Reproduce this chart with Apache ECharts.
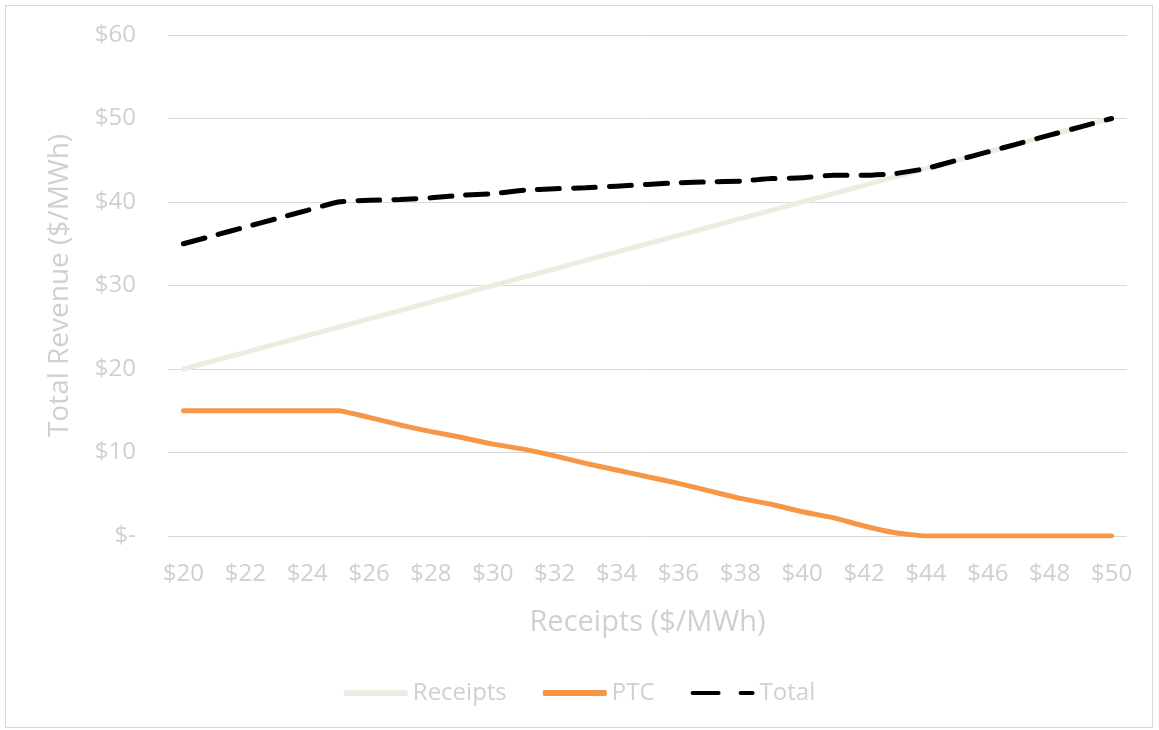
<!DOCTYPE html>
<html>
<head>
<meta charset="utf-8">
<script src="https://cdn.jsdelivr.net/npm/echarts@6/dist/echarts.min.js"></script>
<style>
  html, body { margin: 0; padding: 0; background: #fff; }
  #frame { position: absolute; left: 5px; top: 5px; width: 1146px; height: 721px; border: 1px solid #d9d9d9; }
  #chart { position: absolute; left: 0; top: 0; width: 1159px; height: 730px; }
</style>
</head>
<body>
<div id="frame"></div>
<div id="chart"></div>
<script>
// x categories ($/MWh receipts)
var categories = ['$20','$21','$22','$23','$24','$25','$26','$27','$28','$29','$30',
  '$31','$32','$33','$34','$35','$36','$37','$38','$39','$40',
  '$41','$42','$43','$44','$45','$46','$47','$48','$49','$50'];

var receipts = [20,21,22,23,24,25,26,27,28,29,30,31,32,33,34,35,36,37,38,39,40,41,42,43,44,45,46,47,48,49,50];
var ptc = [15,15,15,15,15,15,14.2,13.3,12.5,11.8,11.0,10.4,9.6,8.7,7.9,7.1,6.3,5.4,4.5,3.8,2.9,2.2,1.2,0.4,0,0,0,0,0,0,0];
var total = [35,36,37,38,39,40,40.2,40.3,40.5,40.8,41.0,41.4,41.6,41.7,41.9,42.1,42.3,42.4,42.5,42.8,42.9,43.2,43.2,43.4,44,45,46,47,48,49,50];

var yTicks = [0, 10, 20, 30, 40, 50, 60];

var txt = '#d0d0d0';
var font = 'Open Sans';
var dashIcon = 'path://M2,0h26a2,2 0 0 1 0,4h-26a2,2 0 0 1 0,-4z M50,0h12a2,2 0 0 1 0,4h-12a2,2 0 0 1 0,-4z';

var chart = echarts.init(document.getElementById('chart'));
chart.setOption({
  animation: false,
  textStyle: { fontFamily: font },
  grid: { left: 168, right: 32, top: 35, bottom: 194 },
  legend: {
    bottom: 20,
    left: 'center',
    itemWidth: 64,
    itemHeight: 6,
    itemGap: 36,
    textStyle: { color: txt, fontSize: 24, fontFamily: font, padding: [0, 0, 0, 0] },
    data: [
      { name: 'Receipts', icon: 'roundRect' },
      { name: 'PTC', icon: 'roundRect' },
      { name: 'Total', icon: dashIcon }
    ]
  },
  xAxis: {
    type: 'category',
    data: categories,
    boundaryGap: true,
    name: 'Receipts ($/MWh)',
    nameLocation: 'middle',
    nameGap: 72,
    nameTextStyle: { color: txt, fontSize: 29 },
    axisLine: { show: false },
    axisTick: { show: false },
    axisLabel: { interval: 1, color: txt, fontSize: 24, margin: 26 }
  },
  yAxis: {
    type: 'value',
    min: yTicks[0],
    max: yTicks[yTicks.length - 1],
    interval: 10,
    name: 'Total Revenue ($/MWh)',
    nameLocation: 'middle',
    nameGap: 94,
    nameTextStyle: { color: txt, fontSize: 28 },
    axisLine: { show: false },
    axisTick: { show: false },
    splitLine: { lineStyle: { color: '#d9d9d9', width: 1 } },
    axisLabel: {
      color: txt, fontSize: 24, margin: 32,
      formatter: function (v) { return v === 0 ? '$-' : '$' + v; }
    }
  },
  series: [
    {
      name: 'Receipts', type: 'line', data: receipts, symbol: 'none', smooth: 0.15,
      lineStyle: { color: '#eeece1', width: 5, cap: 'round' },
      itemStyle: { color: '#eeece1' }
    },
    {
      name: 'PTC', type: 'line', data: ptc, symbol: 'none', smooth: 0.15,
      lineStyle: { color: '#f79646', width: 5, cap: 'round' },
      itemStyle: { color: '#f79646' }
    },
    {
      name: 'Total', type: 'line', data: total, symbol: 'none', smooth: 0.15,
      lineStyle: { color: '#000', width: 5, type: [22, 14], cap: 'round' },
      itemStyle: { color: '#000' }
    }
  ]
});
</script>
</body>
</html>
